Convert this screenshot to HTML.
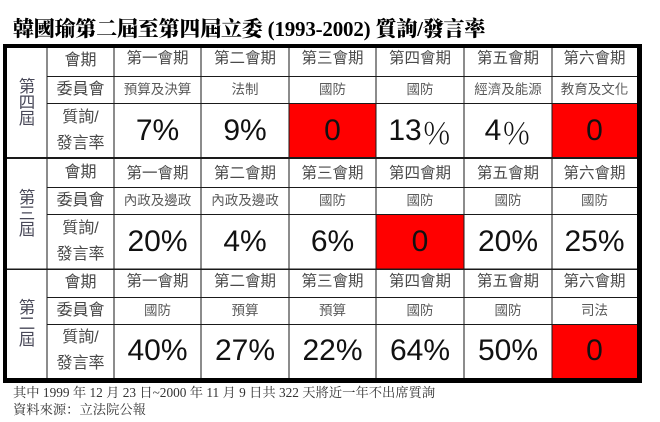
<!DOCTYPE html>
<html><head><meta charset="utf-8">
<style>
*{margin:0;padding:0;box-sizing:border-box}
html,body{width:660px;height:422px;background:#fff;overflow:hidden;position:relative}
.t{position:absolute;display:flex;align-items:center;justify-content:center;white-space:nowrap}
.title{position:absolute;left:13px;top:18px;font-family:"Liberation Serif","Noto Serif CJK SC",serif;font-weight:900;font-size:21px;line-height:22px;color:#000;white-space:nowrap;letter-spacing:-0.2px}
.hd{font-family:"Liberation Sans","Noto Sans CJK TC",sans-serif;font-size:15.5px;color:#4a4a4a;line-height:18px}
.lb{font-family:"Liberation Sans","Noto Sans CJK TC",sans-serif;font-size:16px;color:#484848;line-height:18px}
.cm{font-family:"Liberation Sans","Noto Sans CJK TC",sans-serif;font-size:13.5px;color:#5a5a5a;line-height:16px}
.v{font-family:"Liberation Sans","Noto Sans CJK TC",sans-serif;font-size:30px;color:#111;line-height:32px}
.pc{font-family:"Noto Serif CJK SC",serif;font-weight:300}
.vt{font-family:"Liberation Sans","Noto Sans CJK TC",sans-serif;font-size:16.5px;color:#484858;line-height:16px;text-align:center;flex-direction:column}
.ft{position:absolute;left:13px;font-family:"Liberation Serif","Noto Serif CJK SC",serif;font-size:13.3px;color:#333;white-space:nowrap;line-height:15px}
</style></head><body>
<div class="title">韓國瑜第二屆至第四屆立委 (1993-2002) 質詢/發言率</div>

<svg width="660" height="422" style="position:absolute;left:0;top:0">
<rect x="289" y="103" width="87" height="55" fill="#ff0000"/>
<rect x="552" y="103" width="85" height="55" fill="#ff0000"/>
<rect x="376" y="214" width="88" height="55" fill="#ff0000"/>
<rect x="552" y="324" width="85" height="54" fill="#ff0000"/>
<g stroke="#1a1a1a" stroke-width="1" shape-rendering="crispEdges">
<line x1="47" y1="76.5" x2="637" y2="76.5"/>
<line x1="47" y1="103.5" x2="637" y2="103.5"/>
<line x1="7" y1="158" x2="637" y2="158" stroke-width="2"/>
<line x1="47" y1="187.5" x2="637" y2="187.5"/>
<line x1="47" y1="214.5" x2="637" y2="214.5"/>
<line x1="7" y1="269" x2="637" y2="269" stroke-width="1.5"/>
<line x1="47" y1="297.5" x2="637" y2="297.5"/>
<line x1="47" y1="324.5" x2="637" y2="324.5"/>
<line x1="47" y1="48" x2="47" y2="378"/>
<line x1="114" y1="48" x2="114" y2="378"/>
<line x1="201" y1="48" x2="201" y2="378"/>
<line x1="289" y1="48" x2="289" y2="378"/>
<line x1="376" y1="48" x2="376" y2="378"/>
<line x1="464" y1="48" x2="464" y2="378"/>
<line x1="552" y1="48" x2="552" y2="378"/>
</g>
<path d="M3 44 H642 V383 H3 Z M7 48 V378 H637 V48 Z" fill="#000" fill-rule="evenodd"/>
</svg>

<!-- Group 1 -->
<div class="t vt" style="left:7px;top:48px;width:40px;height:110px"><span>第</span><span>四</span><span>屆</span></div>
<div class="t lb" style="left:47px;top:48px;width:67px;height:26px">會期</div>
<div class="t lb" style="left:47px;top:76px;width:67px;height:27px">委員會</div>
<div class="t lb" style="left:47px;top:103px;width:67px;height:55px;flex-direction:column;line-height:26px"><span>質詢/</span><span>發言率</span></div>
<div class="t hd" style="left:114px;top:48px;width:87px;height:22px">第一會期</div>
<div class="t hd" style="left:201px;top:48px;width:88px;height:22px">第二會期</div>
<div class="t hd" style="left:289px;top:48px;width:87px;height:22px">第三會期</div>
<div class="t hd" style="left:376px;top:48px;width:88px;height:22px">第四會期</div>
<div class="t hd" style="left:464px;top:48px;width:88px;height:22px">第五會期</div>
<div class="t hd" style="left:552px;top:48px;width:85px;height:22px">第六會期</div>
<div class="t cm" style="left:114px;top:76px;width:87px;height:27px">預算及決算</div>
<div class="t cm" style="left:201px;top:76px;width:88px;height:27px">法制</div>
<div class="t cm" style="left:289px;top:76px;width:87px;height:27px">國防</div>
<div class="t cm" style="left:376px;top:76px;width:88px;height:27px">國防</div>
<div class="t cm" style="left:464px;top:76px;width:88px;height:27px">經濟及能源</div>
<div class="t cm" style="left:552px;top:76px;width:85px;height:27px">教育及文化</div>
<div class="t v" style="left:114px;top:103px;width:87px;height:55px">7%</div>
<div class="t v" style="left:201px;top:103px;width:88px;height:55px">9%</div>
<div class="t v" style="left:289px;top:103px;width:87px;height:55px">0</div>
<div class="t v" style="left:376px;top:103px;width:88px;height:55px">13<span class="pc">％</span></div>
<div class="t v" style="left:464px;top:103px;width:88px;height:55px">4<span class="pc">％</span></div>
<div class="t v" style="left:552px;top:103px;width:85px;height:55px">0</div>

<!-- Group 2 -->
<div class="t vt" style="left:7px;top:158px;width:40px;height:111px"><span>第</span><span>三</span><span>屆</span></div>
<div class="t lb" style="left:47px;top:158px;width:67px;height:29px">會期</div>
<div class="t lb" style="left:47px;top:187px;width:67px;height:27px">委員會</div>
<div class="t lb" style="left:47px;top:214px;width:67px;height:55px;flex-direction:column;line-height:26px"><span>質詢/</span><span>發言率</span></div>
<div class="t hd" style="left:114px;top:160px;width:87px;height:28px">第一會期</div>
<div class="t hd" style="left:201px;top:160px;width:88px;height:28px">第二會期</div>
<div class="t hd" style="left:289px;top:160px;width:87px;height:28px">第三會期</div>
<div class="t hd" style="left:376px;top:160px;width:88px;height:28px">第四會期</div>
<div class="t hd" style="left:464px;top:160px;width:88px;height:28px">第五會期</div>
<div class="t hd" style="left:552px;top:160px;width:85px;height:28px">第六會期</div>
<div class="t cm" style="left:114px;top:187px;width:87px;height:27px">內政及邊政</div>
<div class="t cm" style="left:201px;top:187px;width:88px;height:27px">內政及邊政</div>
<div class="t cm" style="left:289px;top:187px;width:87px;height:27px">國防</div>
<div class="t cm" style="left:376px;top:187px;width:88px;height:27px">國防</div>
<div class="t cm" style="left:464px;top:187px;width:88px;height:27px">國防</div>
<div class="t cm" style="left:552px;top:187px;width:85px;height:27px">國防</div>
<div class="t v" style="left:114px;top:214px;width:87px;height:55px">20%</div>
<div class="t v" style="left:201px;top:214px;width:88px;height:55px">4%</div>
<div class="t v" style="left:289px;top:214px;width:87px;height:55px">6%</div>
<div class="t v" style="left:376px;top:214px;width:88px;height:55px">0</div>
<div class="t v" style="left:464px;top:214px;width:88px;height:55px">20%</div>
<div class="t v" style="left:552px;top:214px;width:85px;height:55px">25%</div>

<!-- Group 3 -->
<div class="t vt" style="left:7px;top:269px;width:40px;height:109px"><span>第</span><span>二</span><span>屆</span></div>
<div class="t lb" style="left:47px;top:269px;width:67px;height:28px">會期</div>
<div class="t lb" style="left:47px;top:297px;width:67px;height:27px">委員會</div>
<div class="t lb" style="left:47px;top:324px;width:67px;height:54px;flex-direction:column;line-height:26px"><span>質詢/</span><span>發言率</span></div>
<div class="t hd" style="left:114px;top:269px;width:87px;height:26px">第一會期</div>
<div class="t hd" style="left:201px;top:269px;width:88px;height:26px">第二會期</div>
<div class="t hd" style="left:289px;top:269px;width:87px;height:26px">第三會期</div>
<div class="t hd" style="left:376px;top:269px;width:88px;height:26px">第四會期</div>
<div class="t hd" style="left:464px;top:269px;width:88px;height:26px">第五會期</div>
<div class="t hd" style="left:552px;top:269px;width:85px;height:26px">第六會期</div>
<div class="t cm" style="left:114px;top:297px;width:87px;height:27px">國防</div>
<div class="t cm" style="left:201px;top:297px;width:88px;height:27px">預算</div>
<div class="t cm" style="left:289px;top:297px;width:87px;height:27px">預算</div>
<div class="t cm" style="left:376px;top:297px;width:88px;height:27px">國防</div>
<div class="t cm" style="left:464px;top:297px;width:88px;height:27px">國防</div>
<div class="t cm" style="left:552px;top:297px;width:85px;height:27px">司法</div>
<div class="t v" style="left:114px;top:324px;width:87px;height:54px">40%</div>
<div class="t v" style="left:201px;top:324px;width:88px;height:54px">27%</div>
<div class="t v" style="left:289px;top:324px;width:87px;height:54px">22%</div>
<div class="t v" style="left:376px;top:324px;width:88px;height:54px">64%</div>
<div class="t v" style="left:464px;top:324px;width:88px;height:54px">50%</div>
<div class="t v" style="left:552px;top:324px;width:85px;height:54px">0</div>

<div class="ft" style="top:385px">其中 1999 年 12 月 23 日~2000 年 11 月 9 日共 322 天將近一年不出席質詢</div>
<div class="ft" style="top:402px">資料來源：立法院公報</div>
</body></html>
